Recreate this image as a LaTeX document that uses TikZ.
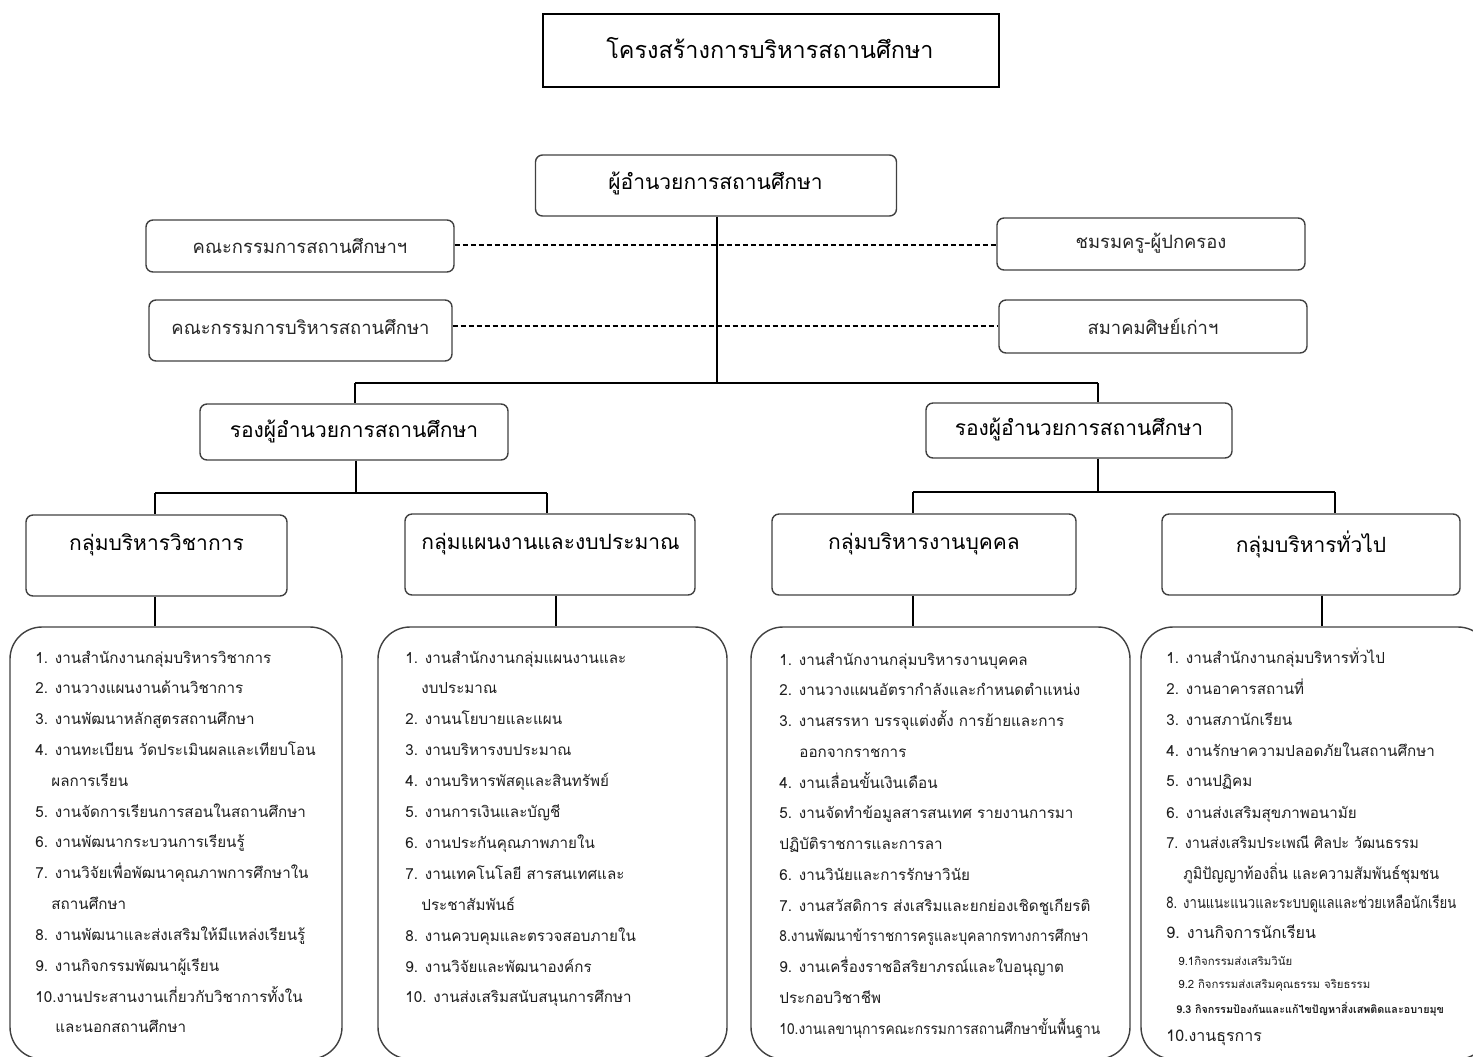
\documentclass[tikz,border=0pt]{standalone}
\usepackage{fontspec}
\usepackage{graphicx}
\setmainfont[Script=Thai]{Loma}
\newcommand\narrowtxt[2]{\scalebox{#1}[1]{#2}}
\begin{document}
\begin{tikzpicture}[x=0.5pt,y=-0.5pt,
  box/.style={draw=black!75,line width=0.7pt,rounded corners=3.5pt,inner sep=0pt},
  titlebox/.style={draw=black,line width=1pt,inner sep=0pt},
  listbox/.style={draw=black!75,line width=0.7pt,rounded corners=16pt},
  tree/.style={draw=black,line width=1pt},
  thinln/.style={draw=black,line width=0.6pt},
  dashln/.style={draw=black,line width=0.55pt,dash pattern=on 2.4pt off 1.6pt},
  itm/.style={anchor=base west,inner sep=0pt,font=\fontsize{7.6}{9}\selectfont,text=black!88},
  subitm/.style={anchor=base west,inner sep=0pt,font=\fontsize{5.7}{7}\selectfont,text=black!88},
  head/.style={inner sep=0pt,font=\fontsize{10.5}{13}\selectfont},
  comm/.style={inner sep=0pt,font=\fontsize{9.2}{11}\selectfont,text=black!85}
]
\useasboundingbox (0,0) rectangle (1473,1056);
% title
\node[titlebox,minimum width=228pt,minimum height=36.5pt] (title) at (771,50.5) {};
\node[inner sep=0pt,font=\fontsize{11.7}{14}\selectfont] (titlet) at (770,48) {โครงสร้างการบริหารสถานศึกษา};
% director
\node[box,minimum width=180.5pt,minimum height=30.5pt] (dir) at (716,185.5) {};
\node[head] (dirt) at (715.5,183) {ผู้อำนวยการสถานศึกษา};
% committees
\node[box,minimum width=154pt,minimum height=26pt] (c1) at (300,246) {};
\node[comm] (c1t) at (300,246) {คณะกรรมการสถานศึกษาฯ};
\node[box,minimum width=151.5pt,minimum height=30.5pt] (c2) at (300.5,330.5) {};
\node[comm] (c2t) at (300.5,327) {คณะกรรมการบริหารสถานศึกษา};
\node[box,minimum width=154pt,minimum height=26pt] (r1) at (1151,244) {};
\node[comm] (r1t) at (1151,243) {ชมรมครู-ผู้ปกครอง};
\node[box,minimum width=154pt,minimum height=26.5pt] (r2) at (1153,326.5) {};
\node[comm] (r2t) at (1153,326) {สมาคมศิษย์เก่าฯ};
% deputy directors
\node[box,minimum width=154pt,minimum height=28pt] (s1) at (354,432) {};
\node[head] (s1t) at (354,431) {รองผู้อำนวยการสถานศึกษา};
\node[box,minimum width=153pt,minimum height=27.5pt] (s2) at (1079,430.5) {};
\node[head] (s2t) at (1079,429) {รองผู้อำนวยการสถานศึกษา};
% groups
\node[box,minimum width=130.5pt,minimum height=40.5pt] (g1) at (156.5,555.5) {};
\node[head] (g1t) at (156.5,545) {กลุ่มบริหารวิชาการ};
\node[box,minimum width=145pt,minimum height=40.5pt] (g2) at (550,554.5) {};
\node[head] (g2t) at (550.5,544) {กลุ่มแผนงานและงบประมาณ};
\node[box,minimum width=152pt,minimum height=40.5pt] (g3) at (924,554.5) {};
\node[head] (g3t) at (924,544) {กลุ่มบริหารงานบุคคล};
\node[box,minimum width=149pt,minimum height=40.5pt] (g4) at (1311,554.5) {};
\node[head] (g4t) at (1311,544) {กลุ่มบริหารทั่วไป};
% list boxes
\node[listbox,minimum width=166pt,minimum height=216pt] (l1) at (176,843) {};
\node[listbox,minimum width=174.5pt,minimum height=216pt] (l2) at (552.5,843) {};
\node[listbox,minimum width=189.5pt,minimum height=216pt] (l3) at (940.5,843) {};
\node[listbox,minimum width=174.5pt,minimum height=216pt] (l4) at (1315.5,843) {};
% junctions
\coordinate (hl) at (355,383);
\coordinate (hr) at (1098,383);
\coordinate (jl) at (356,493);
\coordinate (jl1) at (155,493);
\coordinate (jl2) at (547,493);
\coordinate (jr) at (1098,492);
\coordinate (jr1) at (913,492);
\coordinate (jr2) at (1335,492);
\coordinate (v1) at (155,600);
\coordinate (v2) at (556,600);
\coordinate (v3) at (913,600);
\coordinate (v4) at (1322,600);
\coordinate (dv) at (717,200);
\coordinate (d1y) at (0,245);
\coordinate (d2y) at (0,326);
% dashed links
\draw[dashln] (c1.east |- d1y) -- (r1.west |- d1y);
\draw[dashln] (c2.east |- d2y) -- (r2.west |- d2y);
% tree
\draw[thinln] (dv |- dir.south) -- (dv |- hl);
\draw[tree] (hl) -- (hr);
\draw[tree] (hl) -- (hl |- s1.north);
\draw[tree] (hr) -- (hr |- s2.north);
\draw[tree] (jl |- s1.south) -- (jl);
\draw[tree] (jl1) -- (jl2);
\draw[tree] (jl1) -- (jl1 |- g1.north);
\draw[tree] (jl2) -- (jl2 |- g2.north);
\draw[tree] (jr |- s2.south) -- (jr);
\draw[tree] (jr1) -- (jr2);
\draw[tree] (jr1) -- (jr1 |- g3.north);
\draw[tree] (jr2) -- (jr2 |- g4.north);
\draw[tree] (v1 |- g1.south) -- (v1 |- l1.north);
\draw[tree] (v2 |- g2.south) -- (v2 |- l2.north);
\draw[tree] (v3 |- g3.south) -- (v3 |- l3.north);
\draw[tree] (v4 |- g4.south) -- (v4 |- l4.north);
% list 1
\foreach \t [count=\i from 0] in {
  {1. งานสำนักงานกลุ่มบริหารวิชาการ},
  {2. งานวางแผนงานด้านวิชาการ},
  {3. งานพัฒนาหลักสูตรสถานศึกษา},
  {4. งานทะเบียน วัดประเมินผลและเทียบโอน},
  {\hspace*{8pt}ผลการเรียน},
  {5. งานจัดการเรียนการสอนในสถานศึกษา},
  {6. งานพัฒนากระบวนการเรียนรู้},
  {7. งานวิจัยเพื่อพัฒนาคุณภาพการศึกษาใน},
  {\hspace*{8pt}สถานศึกษา},
  {8. งานพัฒนาและส่งเสริมให้มีแหล่งเรียนรู้},
  {9. งานกิจกรรมพัฒนาผู้เรียน},
  {10.งานประสานงานเกี่ยวกับวิชาการทั้งใน},
  {\hspace*{10pt}และนอกสถานศึกษา}}
  \node[itm] (a\i) at (35,{663+\i*30.83}) {\t};
% list 2
\foreach \t [count=\i from 0] in {
  {1. งานสำนักงานกลุ่มแผนงานและ},
  {\hspace*{8pt}งบประมาณ},
  {2. งานนโยบายและแผน},
  {3. งานบริหารงบประมาณ},
  {4. งานบริหารพัสดุและสินทรัพย์},
  {5. งานการเงินและบัญชี},
  {6. งานประกันคุณภาพภายใน},
  {7. งานเทคโนโลยี สารสนเทศและ},
  {\hspace*{8pt}ประชาสัมพันธ์},
  {8. งานควบคุมและตรวจสอบภายใน},
  {9. งานวิจัยและพัฒนาองค์กร},
  {10. งานส่งเสริมสนับสนุนการศึกษา}}
  \node[itm] (b\i) at (405,{663+\i*30.9}) {\t};
% list 3
\foreach \t [count=\i from 0] in {
  {1. งานสำนักงานกลุ่มบริหารงานบุคคล},
  {2. งานวางแผนอัตรากำลังและกำหนดตำแหน่ง},
  {3. งานสรรหา บรรจุแต่งตั้ง การย้ายและการ},
  {\hspace*{10pt}ออกจากราชการ},
  {4. งานเลื่อนขั้นเงินเดือน},
  {5. งานจัดทำข้อมูลสารสนเทศ รายงานการมา},
  {ปฏิบัติราชการและการลา},
  {6. งานวินัยและการรักษาวินัย},
  {7. งานสวัสดิการ ส่งเสริมและยกย่องเชิดชูเกียรติ},
  {\narrowtxt{0.9}{8.งานพัฒนาข้าราชการครูและบุคลากรทางการศึกษา}},
  {9. งานเครื่องราชอิสริยาภรณ์และใบอนุญาต},
  {ประกอบวิชาชีพ},
  {\narrowtxt{0.905}{10.งานเลขานุการคณะกรรมการสถานศึกษาขั้นพื้นฐาน}}}
  \node[itm] (c\i) at (779,{665+\i*30.75}) {\t};
% list 4
\node[itm] (d1) at (1166,663) {1. งานสำนักงานกลุ่มบริหารทั่วไป};
\node[itm] (d2) at (1166,694) {2. งานอาคารสถานที่};
\node[itm] (d3) at (1166,725) {3. งานสภานักเรียน};
\node[itm] (d4) at (1166,756) {4. งานรักษาความปลอดภัยในสถานศึกษา};
\node[itm] (d5) at (1166,786) {5. งานปฏิคม};
\node[itm] (d6) at (1166,818) {6. งานส่งเสริมสุขภาพอนามัย};
\node[itm] (d7) at (1166,848) {\narrowtxt{0.95}{7. งานส่งเสริมประเพณี ศิลปะ วัฒนธรรม}};
\node[itm,font=\fontsize{8}{9}\selectfont] (d7b) at (1183,879) {\narrowtxt{0.9}{ภูมิปัญญาท้องถิ่น และความสัมพันธ์ชุมชน}};
\node[itm,font=\fontsize{8}{9}\selectfont] (d8) at (1166,908) {\narrowtxt{0.82}{8. งานแนะแนวและระบบดูแลและช่วยเหลือนักเรียน}};
\node[itm,font=\fontsize{8}{9}\selectfont] (d9) at (1166,938) {9. งานกิจการนักเรียน};
\node[subitm] (d91) at (1178,965) {9.1กิจกรรมส่งเสริมวินัย};
\node[subitm] (d92) at (1178,988) {9.2 กิจกรรมส่งเสริมคุณธรรม จริยธรรม};
\node[subitm,font=\fontsize{5.4}{7}\selectfont\bfseries] (d93) at (1176,1013) {9.3 กิจกรรมป้องกันและแก้ไขปัญหาสิ่งเสพติดและอบายมุข};
\node[itm,font=\fontsize{8}{9}\selectfont] (d10) at (1166,1041) {10.งานธุรการ};
\end{tikzpicture}
\end{document}
